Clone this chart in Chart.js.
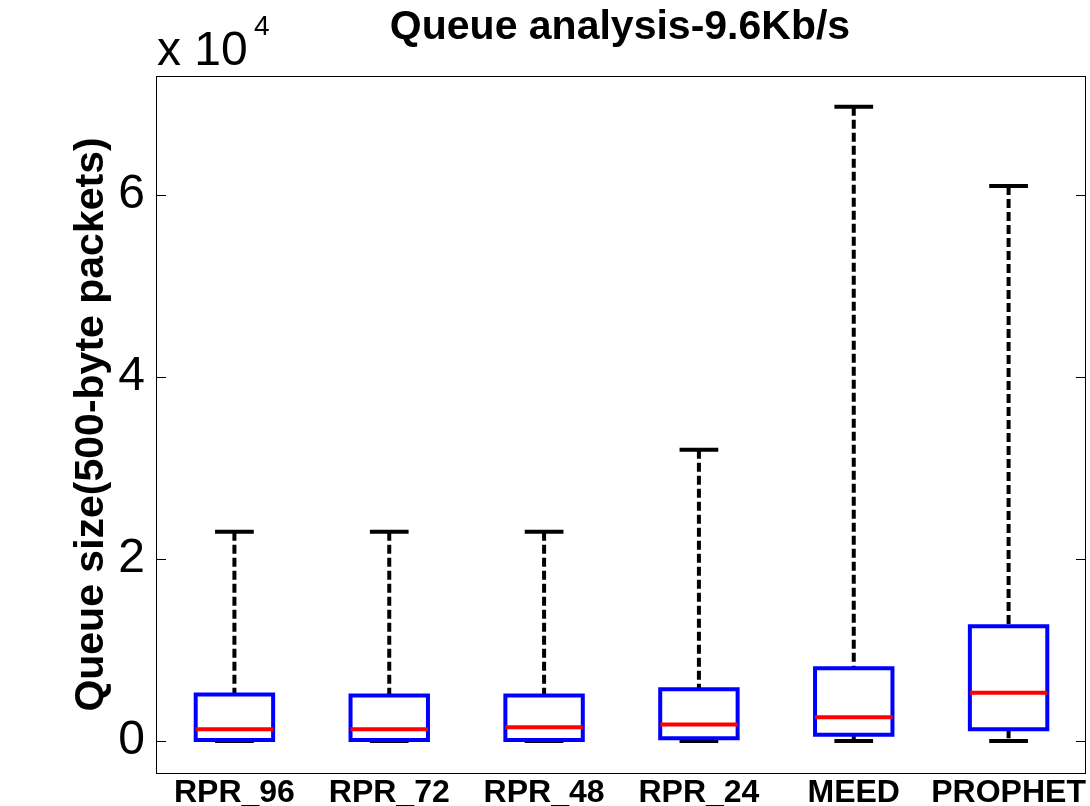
<!DOCTYPE html>
<html>
<head>
<meta charset="utf-8">
<script src="https://cdn.jsdelivr.net/npm/chart.js@4.4.1/dist/chart.umd.min.js"></script>
<style>
  html, body { margin: 0; padding: 0; background: #fff; }
  #wrap { width: 1090px; height: 806px; }
</style>
</head>
<body>
<div id="wrap"><canvas id="queueChart" width="1090" height="806"></canvas></div>
<script>
// --- Data ---
const categories = ['RPR_96', 'RPR_72', 'RPR_48', 'RPR_24', 'MEED', 'PROPHET'];
const whiskerLow = [0, 0, 0, 0, 0, 0];
const quartile1 = [100, 100, 100, 300, 700, 1300];
const medians = [1300, 1300, 1500, 1800, 2600, 5300];
const quartile3 = [5100, 5000, 5000, 5700, 8000, 12600];
const whiskerHigh = [23000, 23000, 23000, 32000, 69700, 61000];
const yTickValues = [0, 20000, 40000, 60000];
const yTickLabels = ['0', '2', '4', '6'];

const FONT = '"Liberation Sans", Arial, Helvetica, sans-serif';
const BOX_HALF = 0.25;  // box is half a category wide
const CAP_HALF = 0.125; // whisker caps are a quarter wide

// build a polyline with gaps (null y) between the per-category pieces
function piecewise(fn) {
  const pts = [];
  categories.forEach((c, i) => {
    pts.push(...fn(i + 1, i));
    pts.push({ x: i + 1, y: null });
  });
  return pts;
}

function lineSet(data, color, width, order, dash) {
  return {
    type: 'line',
    data: data,
    borderColor: color,
    borderWidth: width,
    borderDash: dash || [],
    borderCapStyle: 'butt',
    borderJoinStyle: 'miter',
    pointRadius: 0,
    pointHoverRadius: 0,
    spanGaps: false,
    fill: false,
    tension: 0,
    order: order
  };
}

const datasets = [];

// medians (drawn on top)
datasets.push(lineSet(piecewise((x, i) => [
  { x: x - BOX_HALF, y: medians[i] }, { x: x + BOX_HALF, y: medians[i] }
]), '#ff0000', 4, 0));

// boxes
datasets.push(lineSet(piecewise((x, i) => [
  { x: x - BOX_HALF, y: quartile1[i] }, { x: x + BOX_HALF, y: quartile1[i] },
  { x: x + BOX_HALF, y: quartile3[i] }, { x: x - BOX_HALF, y: quartile3[i] },
  { x: x - BOX_HALF, y: quartile1[i] }, { x: x + BOX_HALF, y: quartile1[i] }
]), '#0000ff', 4, 1));

// whisker caps
datasets.push(lineSet(piecewise((x, i) => [
  { x: x - CAP_HALF, y: whiskerHigh[i] }, { x: x + CAP_HALF, y: whiskerHigh[i] },
  { x: x, y: null },
  { x: x - CAP_HALF, y: whiskerLow[i] }, { x: x + CAP_HALF, y: whiskerLow[i] }
]), '#000000', 4, 2));

// dashed whiskers, one dataset per category so the dash restarts at each cap
categories.forEach((c, i) => {
  datasets.push(lineSet([
    { x: i + 1, y: whiskerHigh[i] }, { x: i + 1, y: quartile3[i] },
    { x: i + 1, y: null },
    { x: i + 1, y: quartile1[i] }, { x: i + 1, y: whiskerLow[i] }
  ], '#000000', 4, 3, [9, 4]));
});

// frame, inward ticks, title, axis label and exponent
const decorations = {
  id: 'decorations',
  afterDraw(chart) {
    const { ctx, chartArea: a, scales: { y } } = chart;
    ctx.save();
    ctx.strokeStyle = '#000';
    ctx.lineWidth = 1;
    ctx.strokeRect(a.left - 0.5, a.top + 0.5, a.right - a.left, a.bottom - a.top);

    ctx.beginPath();
    yTickValues.forEach(v => {
      const py = Math.round(y.getPixelForValue(v)) + 0.5;
      ctx.moveTo(a.left, py); ctx.lineTo(a.left + 9, py);
      ctx.moveTo(a.right - 1, py); ctx.lineTo(a.right - 10, py);
    });
    ctx.stroke();

    ctx.fillStyle = '#000';
    // title
    ctx.font = 'bold 41px ' + FONT;
    ctx.textAlign = 'center';
    ctx.textBaseline = 'alphabetic';
    ctx.fillText('Queue analysis-9.6Kb/s', 620, 39);

    // y axis label
    ctx.save();
    ctx.translate(103, (a.top + a.bottom) / 2);
    ctx.rotate(-Math.PI / 2);
    ctx.fillText('Queue size(500-byte packets)', 0, 0);
    ctx.restore();

    // exponent
    ctx.textAlign = 'left';
    ctx.font = '48px ' + FONT;
    ctx.fillText('x 10', 157, 65);
    ctx.font = '28px ' + FONT;
    ctx.fillText('4', 254, 35);
    ctx.restore();
  }
};

const chart = new Chart(document.getElementById('queueChart'), {
  type: 'line',
  data: { datasets: datasets },
  options: {
    responsive: false,
    animation: false,
    events: [],
    layout: { padding: { top: 76, right: 4, left: 0, bottom: 0 } },
    plugins: {
      legend: { display: false },
      tooltip: { enabled: false },
      title: { display: false }
    },
    scales: {
      x: {
        type: 'linear',
        min: 0.5,
        max: 6.5,
        bounds: 'data',
        grid: { display: false },
        border: { display: false },
        afterBuildTicks: s => { s.ticks = categories.map((c, i) => ({ value: i + 1 })); },
        afterFit: s => { s.height = 33; },
        ticks: {
          autoSkip: false,
          maxRotation: 0,
          minRotation: 0,
          padding: -7,
          color: '#000',
          font: { family: FONT, size: 32, weight: 'bold' },
          callback: v => categories[Math.round(v) - 1]
        }
      },
      y: {
        type: 'linear',
        min: -3516,
        max: 73077,
        bounds: 'data',
        grid: { display: false },
        border: { display: false },
        afterBuildTicks: s => { s.ticks = yTickValues.map(v => ({ value: v })); },
        afterFit: s => { s.width = 157; },
        ticks: {
          padding: 4,
          color: '#000',
          font: { family: FONT, size: 48, weight: 'normal' },
          callback: (v, i) => yTickLabels[i]
        }
      }
    }
  },
  plugins: [decorations]
});
</script>
</body>
</html>
